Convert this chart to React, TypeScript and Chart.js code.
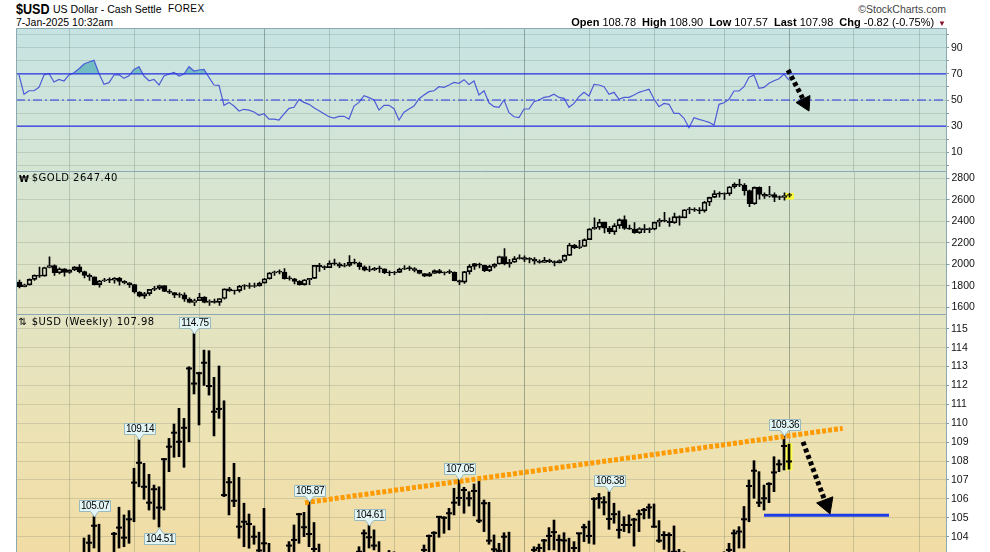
import React, { useEffect, useRef } from 'react';
import { Chart, registerables } from 'chart.js';

Chart.register(...registerables);

// ---------------- DATA ----------------
// weekly bars, index 0 = week of 24-Jan-2022 ... index 154 = week of 6-Jan-2025
const RSI = [
  69.2, 54.4, 57.1, 57.1, 59.7, 69.2, 70.4, 63.8, 65.8, 64.6,
  69.2, 70.9, 74.0, 77.6, 79.1, 80.4, 70.4, 62.0, 63.3, 69.2,
  69.4, 66.6, 68.6, 73.5, 75.5, 68.4, 64.8, 65.8, 61.5, 68.4,
  69.9, 71.2, 68.4, 69.9, 75.5, 72.2, 73.0, 73.5, 67.4, 61.5,
  61.2, 45.9, 48.2, 45.4, 41.6, 42.9, 42.3, 40.8, 38.3, 39.5,
  35.4, 35.4, 34.7, 39.3, 43.6, 44.4, 50.5, 48.2, 46.7, 44.1,
  41.8, 39.5, 37.2, 36.2, 37.5, 37.5, 35.4, 45.4, 48.2, 53.3,
  51.8, 50.0, 42.3, 45.9, 45.9, 43.4, 34.7, 40.6, 43.1, 45.4,
  51.0, 53.8, 56.4, 57.1, 60.2, 59.7, 61.5, 63.5, 62.8, 65.6,
  61.9, 64.6, 53.8, 57.1, 47.9, 44.9, 44.4, 50.0, 40.3, 37.2,
  36.5, 43.1, 43.1, 48.7, 50.0, 52.0, 52.6, 54.4, 52.0, 51.3,
  44.4, 47.4, 52.6, 55.9, 53.1, 62.0, 61.5, 60.2, 54.4, 55.9,
  50.5, 52.0, 52.0, 53.8, 55.9, 57.1, 58.2, 50.8, 44.9, 47.4,
  46.7, 39.8, 39.8, 36.0, 28.8, 36.5, 35.2, 34.1, 32.9, 30.8,
  46.7, 47.9, 50.5, 56.9, 56.9, 60.2, 67.4, 69.2, 59.0, 59.7,
  62.8, 64.8, 66.3, 69.9, 65.3,
];

const GOLD_O = [
  1835, 1791, 1808, 1859, 1898, 1889, 1970, 1988, 1921, 1958,
  1925, 1947, 1975, 1931, 1897, 1883, 1811, 1846, 1853, 1851,
  1871, 1840, 1827, 1811, 1742, 1703, 1727, 1766, 1775, 1802,
  1747, 1737, 1712, 1716, 1675, 1644, 1661, 1695, 1644, 1657,
  1645, 1681, 1771, 1751, 1755, 1797, 1798, 1793, 1798, 1824,
  1865, 1920, 1926, 1928, 1865, 1865, 1841, 1811, 1856, 1868,
  1989, 1978, 1969, 2008, 2004, 1983, 1990, 2017, 2011, 1977,
  1946, 1948, 1961, 1958, 1921, 1919, 1925, 1955, 1962, 1959,
  1943, 1914, 1889, 1914, 1940, 1919, 1924, 1925, 1848, 1833,
  1932, 1981, 2000, 1992, 1940, 1981, 2002, 2072, 2004, 2019,
  2053, 2062, 2045, 2049, 2029, 2018, 2039, 2024, 2013, 2035,
  2083, 2179, 2155, 2165, 2230, 2330, 2344, 2392, 2337, 2301,
  2360, 2415, 2334, 2327, 2293, 2333, 2322, 2326, 2392, 2411,
  2400, 2386, 2443, 2431, 2507, 2512, 2503, 2497, 2577, 2622,
  2658, 2653, 2656, 2721, 2747, 2736, 2685, 2563, 2716, 2650,
  2633, 2648, 2622, 2621, 2640,
];
const GOLD_H = [
  1853, 1815, 1865, 1902, 1974, 1974, 2070, 1994, 1966, 1960,
  1949, 1978, 1998, 1936, 1910, 1884, 1850, 1869, 1874, 1875,
  1879, 1847, 1830, 1812, 1745, 1739, 1767, 1794, 1807, 1803,
  1765, 1738, 1735, 1735, 1688, 1675, 1730, 1700, 1668, 1675,
  1682, 1772, 1786, 1760, 1804, 1810, 1825, 1824, 1834, 1870,
  1922, 1937, 1949, 1959, 1891, 1870, 1847, 1857, 1870, 1990,
  2009, 1985, 2032, 2048, 2015, 2009, 2080, 2048, 2020, 1985,
  1983, 1971, 1983, 1958, 1938, 1935, 1964, 1987, 1983, 1970,
  1946, 1916, 1925, 1949, 1953, 1930, 1947, 1930, 1853, 1933,
  1997, 2009, 2010, 1993, 1993, 2007, 2075, 2146, 2047, 2071,
  2088, 2078, 2062, 2062, 2041, 2065, 2049, 2032, 2041, 2088,
  2195, 2185, 2223, 2236, 2331, 2432, 2418, 2392, 2352, 2378,
  2422, 2450, 2364, 2387, 2342, 2369, 2339, 2392, 2424, 2484,
  2432, 2477, 2450, 2509, 2531, 2525, 2528, 2586, 2625, 2685,
  2673, 2665, 2722, 2758, 2790, 2750, 2690, 2721, 2721, 2665,
  2726, 2664, 2638, 2665, 2660,
];
const GOLD_L = [
  1780, 1788, 1805, 1850, 1878, 1889, 1966, 1895, 1910, 1890,
  1915, 1940, 1920, 1872, 1850, 1807, 1786, 1838, 1828, 1825,
  1805, 1816, 1784, 1732, 1697, 1681, 1711, 1754, 1764, 1745,
  1727, 1688, 1691, 1654, 1639, 1615, 1660, 1640, 1618, 1638,
  1616, 1676, 1748, 1721, 1740, 1765, 1774, 1785, 1795, 1823,
  1862, 1896, 1911, 1861, 1852, 1818, 1805, 1805, 1809, 1867,
  1934, 1949, 1968, 1992, 1969, 1975, 1980, 2003, 1952, 1937,
  1932, 1940, 1925, 1912, 1893, 1902, 1922, 1950, 1942, 1929,
  1909, 1885, 1887, 1913, 1914, 1901, 1913, 1846, 1810, 1822,
  1908, 1953, 1966, 1931, 1932, 1965, 2000, 1993, 1973, 2016,
  2047, 2025, 2013, 2001, 2010, 2016, 2015, 1984, 2013, 2025,
  2079, 2146, 2146, 2163, 2228, 2325, 2324, 2291, 2285, 2277,
  2334, 2325, 2325, 2286, 2286, 2295, 2293, 2319, 2353, 2393,
  2353, 2381, 2364, 2431, 2470, 2491, 2471, 2485, 2546, 2620,
  2625, 2603, 2640, 2709, 2722, 2643, 2536, 2558, 2605, 2613,
  2625, 2583, 2600, 2596, 2625,
];
const GOLD_C = [
  1791, 1808, 1859, 1898, 1889, 1970, 1988, 1921, 1958, 1925,
  1947, 1975, 1931, 1897, 1883, 1811, 1846, 1853, 1851, 1871,
  1840, 1827, 1811, 1742, 1703, 1727, 1766, 1775, 1802, 1747,
  1737, 1712, 1716, 1675, 1644, 1661, 1695, 1644, 1657, 1645,
  1681, 1771, 1751, 1755, 1797, 1798, 1793, 1798, 1824, 1865,
  1920, 1926, 1928, 1865, 1865, 1841, 1811, 1856, 1868, 1989,
  1978, 1969, 2008, 2004, 1983, 1990, 2017, 2011, 1977, 1946,
  1948, 1961, 1958, 1921, 1919, 1925, 1955, 1962, 1959, 1943,
  1914, 1889, 1914, 1940, 1919, 1924, 1925, 1848, 1833, 1932,
  1981, 2006, 1992, 1940, 1981, 2002, 2072, 2004, 2019, 2053,
  2062, 2045, 2049, 2029, 2018, 2039, 2024, 2013, 2035, 2083,
  2179, 2155, 2165, 2230, 2330, 2344, 2392, 2337, 2301, 2360,
  2415, 2334, 2327, 2293, 2333, 2322, 2326, 2392, 2411, 2400,
  2386, 2443, 2431, 2507, 2512, 2503, 2497, 2577, 2622, 2658,
  2653, 2656, 2721, 2747, 2736, 2685, 2563, 2716, 2650, 2633,
  2648, 2622, 2621, 2640, 2647.4,
];

const USD_H = [
  97.44, 97.42, 96.07, 96.43, 97.74, 98.91, 99.42, 99.29, 99.06, 99.0,
  100.19, 100.85, 101.86, 103.93, 104.09, 105.07, 104.66, 103.1, 102.76, 104.23,
  105.56, 105.15, 105.38, 107.62, 109.14, 107.88, 107.3, 106.73, 106.64, 108.14,
  109.2, 109.96, 110.79, 110.26, 112.99, 114.75, 112.7, 113.87, 113.84, 112.43,
  113.03, 111.19, 107.14, 107.88, 107.14, 105.77, 105.2, 104.57, 104.24, 105.5,
  103.65, 102.9, 102.4, 103.0, 103.74, 104.62, 105.24, 105.29, 105.87, 104.75,
  103.61, 103.1, 102.6, 102.3, 102.2, 102.0, 102.4, 102.7, 103.47, 104.36,
  104.61, 104.36, 103.74, 102.9, 103.27, 103.2, 102.0, 101.2, 102.0, 102.8,
  103.0, 103.56, 104.09, 104.27, 105.06, 105.06, 105.5, 106.56, 107.05, 106.61,
  106.38, 106.79, 106.95, 105.94, 105.82, 104.09, 103.65, 104.21, 104.24, 102.9,
  101.8, 102.7, 102.7, 103.47, 103.61, 103.86, 104.48, 104.88, 104.09, 104.21,
  103.92, 103.74, 104.18, 104.66, 104.83, 106.06, 106.29, 106.12, 106.38, 105.77,
  105.36, 105.06, 105.15, 104.97, 105.41, 105.5, 105.73, 105.73, 104.85, 104.27,
  104.21, 104.57, 103.33, 103.2, 102.6, 101.8, 101.9, 101.8, 101.4, 101.0,
  102.7, 103.2, 103.65, 104.36, 104.53, 105.6, 107.0, 108.02, 107.44, 106.73,
  106.86, 108.23, 108.06, 109.36, 108.9,
];
const USD_L = [
  95.67, 95.14, 95.14, 95.4, 95.88, 96.5, 97.71, 97.73, 98.08, 97.69,
  98.59, 99.51, 100.23, 101.19, 102.37, 103.4, 102.65, 101.4, 101.3, 101.95,
  103.4, 103.47, 103.65, 104.79, 106.64, 105.98, 105.41, 104.92, 104.51, 105.41,
  107.44, 108.2, 108.23, 107.67, 109.02, 111.55, 109.91, 112.0, 111.49, 109.33,
  110.26, 106.12, 105.15, 105.59, 103.92, 103.47, 103.39, 103.6, 103.0, 103.0,
  101.8, 101.5, 101.5, 100.8, 102.6, 102.8, 103.65, 104.0, 103.47, 103.0,
  101.9, 101.9, 101.0, 100.8, 101.4, 101.0, 100.8, 101.0, 102.3, 103.0,
  103.4, 103.3, 102.0, 101.9, 102.5, 102.2, 99.6, 99.6, 100.5, 101.4,
  101.7, 102.6, 102.9, 103.2, 103.97, 104.18, 104.36, 105.15, 105.65, 105.24,
  105.62, 105.1, 104.74, 104.27, 103.6, 103.0, 102.5, 103.0, 102.2, 101.6,
  100.6, 101.3, 101.9, 102.0, 102.8, 102.9, 103.3, 103.3, 103.1, 103.0,
  102.3, 102.7, 103.1, 103.74, 103.65, 103.6, 105.5, 105.15, 104.39, 104.71,
  103.92, 104.27, 104.2, 103.5, 104.27, 104.94, 104.97, 104.5, 103.7, 103.33,
  103.1, 102.9, 102.2, 102.3, 100.5, 100.6, 100.9, 100.9, 100.2, 100.2,
  100.4, 102.3, 102.9, 103.0, 103.4, 103.4, 104.79, 106.03, 105.59, 105.41,
  105.8, 106.38, 107.44, 107.53, 107.57,
];
const USD_C = [
  97.27, 95.48, 96.05, 96.04, 96.61, 98.66, 99.13, 98.2, 98.79, 98.63,
  99.79, 100.5, 101.16, 102.96, 103.68, 104.58, 103.0, 101.7, 102.14, 104.15,
  104.48, 103.95, 104.92, 106.86, 107.91, 106.64, 105.8, 106.51, 105.54, 108.1,
  108.76, 109.5, 109.02, 109.76, 112.9, 112.1, 112.65, 113.2, 111.97, 110.61,
  110.76, 106.2, 106.88, 105.9, 104.53, 104.79, 104.67, 104.0, 103.27, 103.65,
  102.2, 102.0, 101.9, 102.9, 103.53, 103.83, 105.19, 104.5, 104.14, 103.35,
  103.1, 102.5, 101.9, 101.5, 101.8, 101.7, 101.2, 102.7, 103.2, 104.18,
  103.97, 103.53, 102.3, 102.9, 102.9, 102.3, 99.9, 101.1, 101.6, 102.0,
  102.8, 103.3, 104.04, 104.2, 105.05, 105.0, 105.24, 105.8, 106.05, 106.47,
  106.03, 106.42, 104.85, 105.77, 103.79, 103.33, 103.25, 104.0, 102.6, 101.7,
  101.3, 102.4, 102.4, 103.3, 103.4, 103.8, 104.04, 104.24, 103.83, 103.8,
  102.7, 103.4, 104.18, 104.5, 104.04, 106.0, 106.03, 105.82, 104.94, 105.19,
  104.36, 104.62, 104.62, 104.9, 105.19, 105.41, 105.55, 104.53, 103.79, 104.09,
  104.09, 103.2, 103.1, 102.4, 100.7, 101.7, 101.2, 101.1, 100.7, 100.4,
  102.5, 102.9, 103.3, 104.18, 104.27, 104.92, 106.68, 107.49, 105.8, 106.03,
  106.79, 107.4, 107.83, 108.8, 107.98,
];

const LAST_IDX = 154;
const QUARTER_IDX = [10, 23, 36, 49, 62, 75, 88, 101, 114, 127, 141, 154, 167, 180];
const YEAR_IDX = [49, 101, 154];

const RSI_TICKS = [0, 10, 20, 30, 40, 50, 60, 70, 80, 90, 100];
const RSI_LABELS = [10, 30, 50, 70, 90];
const GOLD_TICKS = [1600, 1800, 2000, 2200, 2400, 2600, 2800];
const USD_TICKS = [104, 105, 106, 107, 108, 109, 110, 111, 112, 113, 114, 115];

const USD_HIGH_CALLOUTS = [
  { i: 15, v: 105.07, t: '105.07' },
  { i: 24, v: 109.14, t: '109.14' },
  { i: 35, v: 114.75, t: '114.75' },
  { i: 58, v: 105.87, t: '105.87' },
  { i: 70, v: 104.61, t: '104.61' },
  { i: 88, v: 107.05, t: '107.05' },
  { i: 118, v: 106.38, t: '106.38' },
  { i: 153, v: 109.36, t: '109.36' },
];
const USD_LOW_CALLOUTS = [{ i: 28, v: 104.51, t: '104.51' }];

const TREND_LINE = [{ x: 57.2, y: 105.8 }, { x: 164.74, y: 109.73 }];
const SUPPORT_LINE = [{ x: 149, y: 105.13 }, { x: 174, y: 105.13 }];
const USD_ARROW_LINE = [{ x: 156.8, y: 109.01 }, { x: 161.1, y: 105.95 }];
const USD_ARROW_HEAD = [{ x: 161.5, y: 105.7 }];
const RSI_ARROW_LINE = [{ x: 153.8, y: 73.0 }, { x: 156.8, y: 50.8 }];
const RSI_ARROW_HEAD = [{ x: 157.2, y: 47.7 }];
const GOLD_LAST_BOX = [2605, 2661];
const USD_LAST_BOX = [107.53, 108.93];

// ---------------- STYLE ----------------
const FONT = '"Liberation Sans", Arial, Helvetica, sans-serif';
const X_MIN = -0.6;
const X_MAX = 185.4;
const GRID_H = 'rgba(60,80,70,0.16)';
const GRID_Q = 'rgba(60,85,75,0.22)';
const GRID_Y = 'rgba(50,75,65,0.40)';
const TICK_C = '#7f9ba6';
const FRAME = '#8ca9b2';
const LEVEL_BLUE = '#2a34e4';

const framePlugin = {
  id: 'frame',
  afterDraw(chart: any) {
    const { ctx, chartArea: a } = chart;
    ctx.save();
    ctx.strokeStyle = FRAME;
    ctx.lineWidth = 1;
    const l = Math.floor(a.left) + 0.5;
    const r = Math.floor(a.right) + 0.5;
    const t = Math.floor(a.top) + 0.5;
    ctx.beginPath();
    ctx.moveTo(l, a.bottom);
    ctx.lineTo(l, t);
    ctx.lineTo(r, t);
    ctx.lineTo(r, a.bottom);
    ctx.stroke();
    ctx.restore();
  },
};

const calloutPlugin = {
  id: 'callouts',
  afterDatasetsDraw(chart: any) {
    const { ctx } = chart;
    const xs = chart.scales.x;
    const ys = chart.scales.y;
    ctx.save();
    ctx.font = `10px ${FONT}`;
    try { (ctx as any).letterSpacing = '-0.4px'; } catch (e) { /* ignore */ }
    ctx.textAlign = 'center';
    ctx.textBaseline = 'middle';
    const draw = (idx: number, val: number, text: string, below: boolean) => {
      const px = Math.round(xs.getPixelForValue(idx)) + 0.5;
      const py = ys.getPixelForValue(val);
      const w = 31, h = 11, ph = 5.5, pw = 4;
      const left = Math.round(px - w / 2) + 0.5;
      const top = below ? Math.round(py + ph) + 0.5 : Math.round(py - ph - h) + 0.5;
      ctx.beginPath();
      if (!below) {
        ctx.moveTo(left, top);
        ctx.lineTo(left + w, top);
        ctx.lineTo(left + w, top + h);
        ctx.lineTo(px + pw, top + h);
        ctx.lineTo(px, top + h + ph);
        ctx.lineTo(px - pw, top + h);
        ctx.lineTo(left, top + h);
      } else {
        ctx.moveTo(left, top);
        ctx.lineTo(px - pw, top);
        ctx.lineTo(px, top - ph);
        ctx.lineTo(px + pw, top);
        ctx.lineTo(left + w, top);
        ctx.lineTo(left + w, top + h);
        ctx.lineTo(left, top + h);
      }
      ctx.closePath();
      ctx.fillStyle = '#e3f5f5';
      ctx.fill();
      ctx.strokeStyle = '#98b9bd';
      ctx.lineWidth = 1;
      ctx.stroke();
      ctx.fillStyle = '#000';
      ctx.fillText(text, left + w / 2, top + h / 2 + 0.5);
    };
    USD_HIGH_CALLOUTS.forEach((c) => draw(c.i, c.v, c.t, false));
    USD_LOW_CALLOUTS.forEach((c) => draw(c.i, c.v, c.t, true));
    ctx.restore();
  },
};

function xScale() {
  return {
    type: 'linear',
    min: X_MIN,
    max: X_MAX,
    offset: false,
    afterBuildTicks: (s: any) => { s.ticks = QUARTER_IDX.map((v) => ({ value: v })); },
    ticks: { display: false },
    grid: {
      offset: false,
      drawTicks: false,
      lineWidth: 1,
      color: (ctx: any) => (ctx.tick && YEAR_IDX.includes(ctx.tick.value) ? GRID_Y : GRID_Q),
    },
    border: { display: false },
  };
}

function yScale(min: number, max: number, ticks: number[], labelFn: (v: number) => string, axisWidth: number) {
  return {
    type: 'linear',
    position: 'right',
    min,
    max,
    stacked: false,
    afterBuildTicks: (s: any) => { s.ticks = ticks.map((v) => ({ value: v })); },
    afterFit: (s: any) => { s.width = axisWidth; s.paddingTop = 0; s.paddingBottom = 0; },
    ticks: { autoSkip: false, padding: 2, color: '#111', font: { family: FONT, size: 10.5 }, callback: labelFn },
    grid: { color: GRID_H, lineWidth: 1, drawTicks: true, tickLength: 3, tickColor: TICK_C },
    border: { display: false },
  };
}

function baseOptions(leftPad: number, y: any) {
  return {
    responsive: false,
    animation: false,
    events: [],
    layout: { autoPadding: false, padding: { left: leftPad, right: 0, top: 0, bottom: 0 } },
    plugins: { legend: { display: false }, tooltip: { enabled: false }, title: { display: false } },
    scales: { x: xScale(), y },
  };
}

function hline(v: number, color: string, dash: number[] = []) {
  return {
    type: 'line',
    data: [{ x: X_MIN, y: v }, { x: X_MAX, y: v }],
    borderColor: color,
    backgroundColor: color,
    borderWidth: 1.2,
    borderDash: dash,
    pointRadius: 0,
    fill: false,
  };
}

function makeRsi(canvas: HTMLCanvasElement) {
  return new Chart(canvas, {
    type: 'line',
    data: {
      datasets: [
        {
          type: 'scatter',
          data: RSI_ARROW_HEAD,
          pointStyle: 'triangle',
          pointRadius: 9,
          pointRotation: 153.4,
          pointBackgroundColor: '#000',
          pointBorderColor: '#000',
          pointBorderWidth: 1,
        },
        {
          type: 'line',
          data: RSI_ARROW_LINE,
          borderColor: '#000',
          borderWidth: 5,
          borderDash: [4, 3],
          borderCapStyle: 'butt',
          pointRadius: 0,
        },
        hline(70, LEVEL_BLUE),
        hline(30, LEVEL_BLUE),
        hline(50, LEVEL_BLUE, [9, 3, 2, 3]),
        {
          type: 'line',
          data: RSI.map((v, i) => ({ x: i, y: v })),
          borderColor: '#4d5bd6',
          backgroundColor: '#73bcc1',
          borderWidth: 1.2,
          pointRadius: 0,
          tension: 0,
          fill: { target: { value: 70 }, above: '#73bcc1', below: 'rgba(0,0,0,0)' },
        },
      ],
    } as any,
    options: baseOptions(16, yScale(-4.4, 105.2, RSI_TICKS, (v: number) => (RSI_LABELS.includes(v) ? String(v) : ''), 44)) as any,
    plugins: [framePlugin],
  });
}

function makeGold(canvas: HTMLCanvasElement) {
  const idx = GOLD_O.map((_, i) => i);
  return new Chart(canvas, {
    type: 'bar',
    data: {
      datasets: [
        {
          type: 'bar',
          stack: 's',
          data: idx.map((i) => ({ x: i, y: [GOLD_O[i], GOLD_C[i]] })),
          barThickness: 5,
          backgroundColor: idx.map((i) => (GOLD_C[i] >= GOLD_O[i] ? 'rgba(0,0,0,0)' : '#000')),
          borderColor: '#000',
          borderWidth: 1,
          borderSkipped: false,
          minBarLength: 1,
        },
        {
          type: 'bar',
          stack: 's',
          data: idx.map((i) => ({ x: i, y: [Math.max(GOLD_O[i], GOLD_C[i]), GOLD_H[i]] })),
          barThickness: 1,
          backgroundColor: '#000',
          borderWidth: 0,
        },
        {
          type: 'bar',
          stack: 's',
          data: idx.map((i) => ({ x: i, y: [GOLD_L[i], Math.min(GOLD_O[i], GOLD_C[i])] })),
          barThickness: 1,
          backgroundColor: '#000',
          borderWidth: 0,
        },
        {
          type: 'bar',
          stack: 's',
          data: [{ x: LAST_IDX, y: GOLD_LAST_BOX }],
          barThickness: 8,
          backgroundColor: '#ffff3a',
          borderWidth: 0,
        },
      ],
    } as any,
    options: baseOptions(16.5, yScale(1537, 2868, GOLD_TICKS, (v: number) => String(v), 43.5)) as any,
    plugins: [framePlugin],
  });
}

function makeUsd(canvas: HTMLCanvasElement) {
  const idx = USD_H.map((_, i) => i);
  return new Chart(canvas, {
    type: 'bar',
    data: {
      datasets: [
        {
          type: 'scatter',
          data: USD_ARROW_HEAD,
          pointStyle: 'triangle',
          pointRadius: 10,
          pointRotation: 159.4,
          pointBackgroundColor: '#000',
          pointBorderColor: '#000',
          pointBorderWidth: 1,
        },
        {
          type: 'line',
          data: USD_ARROW_LINE,
          borderColor: '#000',
          borderWidth: 5,
          borderDash: [4, 3],
          borderCapStyle: 'butt',
          pointRadius: 0,
        },
        {
          type: 'line',
          data: TREND_LINE,
          borderColor: '#ff9a00',
          borderWidth: 5,
          borderDash: [4, 2],
          borderCapStyle: 'butt',
          pointRadius: 0,
        },
        {
          type: 'line',
          data: SUPPORT_LINE,
          borderColor: '#1c3ce4',
          borderWidth: 3,
          pointRadius: 0,
        },
        {
          type: 'scatter',
          data: idx.map((i) => ({ x: i, y: USD_C[i] })),
          pointStyle: 'line',
          pointRadius: 3,
          pointBorderWidth: 2,
          pointBorderColor: '#000',
          pointBackgroundColor: '#000',
        },
        {
          type: 'bar',
          stack: 's',
          data: idx.map((i) => ({ x: i, y: [USD_L[i], USD_H[i]] })),
          barThickness: 2,
          backgroundColor: '#000',
          borderWidth: 0,
        },
        {
          type: 'bar',
          stack: 's',
          data: [{ x: LAST_IDX, y: USD_LAST_BOX }],
          barThickness: 6,
          backgroundColor: '#ffff4a',
          borderWidth: 0,
        },
      ],
    } as any,
    options: baseOptions(16, yScale(103.19, 115.78, USD_TICKS, (v: number) => String(v), 44)) as any,
    plugins: [framePlugin, calloutPlugin],
  });
}

const abs = (s: any) => ({ position: 'absolute' as const, whiteSpace: 'nowrap' as const, ...s });

export default function App() {
  const rsiRef = useRef<HTMLCanvasElement>(null);
  const goldRef = useRef<HTMLCanvasElement>(null);
  const usdRef = useRef<HTMLCanvasElement>(null);

  useEffect(() => {
    const charts = [
      makeRsi(rsiRef.current as HTMLCanvasElement),
      makeGold(goldRef.current as HTMLCanvasElement),
      makeUsd(usdRef.current as HTMLCanvasElement),
    ];
    return () => charts.forEach((c) => c.destroy());
  }, []);

  const ohlc: [string, string][] = [
    ['Open', '108.78'],
    ['High', '108.90'],
    ['Low', '107.57'],
    ['Last', '107.98'],
    ['Chg', '-0.82 (-0.75%)'],
  ];

  return (
    <div style={{ position: 'absolute', left: 0, top: 0, width: 990, height: 552, overflow: 'hidden', background: '#fff', fontFamily: FONT, color: '#000' }}>
      <div
        style={abs({
          left: 16, top: 28, width: 930, height: 524,
          background: 'linear-gradient(to bottom, #c6e3e3 0%, #d5e5d3 27%, #e3e4c3 55%, #ede2b2 80%, #f1dca4 100%)',
        })}
      />
      <canvas ref={rsiRef} width={990} height={143} style={{ position: 'absolute', left: 0, top: 28 }} />
      <canvas ref={goldRef} width={990} height={143} style={{ position: 'absolute', left: 0, top: 171 }} />
      <canvas ref={usdRef} width={990} height={238} style={{ position: 'absolute', left: 0, top: 314 }} />

      <div style={abs({ left: 16, top: 1.3, fontSize: 15, lineHeight: '15px', fontWeight: 'bold', transform: 'scaleX(0.84)', transformOrigin: '0 0' })}>$USD</div>
      <div style={abs({ left: 53, top: 3.6, fontSize: 10.5, lineHeight: '11px' })}>US Dollar - Cash Settle</div>
      <div style={abs({ left: 168, top: 4.2, fontSize: 10, lineHeight: '10px', letterSpacing: '0.4px' })}>FOREX</div>
      <div style={abs({ left: 16, top: 17.1, fontSize: 10.5, lineHeight: '10.5px' })}>7-Jan-2025 10:32am</div>
      <div style={abs({ right: 44, top: 4.4, fontSize: 10.5, lineHeight: '10.5px', color: '#444' })}>©StockCharts.com</div>
      <div style={abs({ right: 44, top: 16.7, fontSize: 11, lineHeight: '11px' })}>
        {ohlc.map(([k, v], n) => (
          <span key={k} style={{ marginLeft: n === 0 ? 0 : 6 }}>
            <b>{k}</b> {v}
          </span>
        ))}
        <span style={{ marginLeft: 4, color: '#8c1030', fontSize: 8 }}>▼</span>
      </div>

      <div style={abs({ left: 19, top: 173.5, fontSize: 9, lineHeight: '10px', fontFamily: '"DejaVu Sans", sans-serif', fontWeight: 'bold' })}>₩</div>
      <div style={abs({ left: 31.7, top: 173.2, fontSize: 10, lineHeight: '10px', fontFamily: '"DejaVu Sans", sans-serif', letterSpacing: '0.5px' })}>$GOLD 2647.40</div>
      <div style={abs({ left: 18.5, top: 317, fontSize: 10, lineHeight: '10px', fontFamily: '"DejaVu Sans", sans-serif' })}>⇅</div>
      <div style={abs({ left: 31.7, top: 317.2, fontSize: 10, lineHeight: '10px', fontFamily: '"DejaVu Sans", sans-serif', letterSpacing: '0.5px' })}>$USD (Weekly) 107.98</div>
    </div>
  );
}
